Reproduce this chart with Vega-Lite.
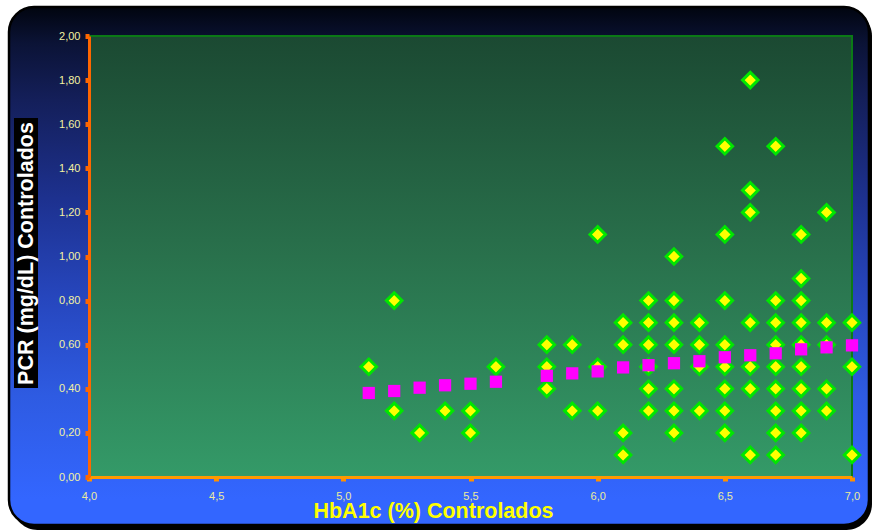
{
  "$schema": "https://vega.github.io/schema/vega-lite/v6.json",
  "width": 763,
  "height": 441,
  "autosize": {"type": "none"},
  "padding": {"left": 89, "top": 36, "right": 20, "bottom": 53},
  "background": "#ffffff",
  "config": {
    "view": {"stroke": null},
    "axis": {"zindex": 5, "grid": false},
    "locale": {"number": {"decimal": ",", "thousands": ".", "grouping": [3], "currency": ["", " €"]}},
    "font": "Liberation Sans"
  },
  "datasets": {
    "points": [
      {"hba1c": 5.1, "pcr": 0.5},
      {"hba1c": 5.2, "pcr": 0.8}, {"hba1c": 5.2, "pcr": 0.3},
      {"hba1c": 5.3, "pcr": 0.2},
      {"hba1c": 5.4, "pcr": 0.3},
      {"hba1c": 5.5, "pcr": 0.3}, {"hba1c": 5.5, "pcr": 0.2},
      {"hba1c": 5.6, "pcr": 0.5},
      {"hba1c": 5.8, "pcr": 0.6}, {"hba1c": 5.8, "pcr": 0.5}, {"hba1c": 5.8, "pcr": 0.4},
      {"hba1c": 5.9, "pcr": 0.6}, {"hba1c": 5.9, "pcr": 0.3},
      {"hba1c": 6.0, "pcr": 1.1}, {"hba1c": 6.0, "pcr": 0.5}, {"hba1c": 6.0, "pcr": 0.3},
      {"hba1c": 6.1, "pcr": 0.7}, {"hba1c": 6.1, "pcr": 0.6}, {"hba1c": 6.1, "pcr": 0.2}, {"hba1c": 6.1, "pcr": 0.1},
      {"hba1c": 6.2, "pcr": 0.8}, {"hba1c": 6.2, "pcr": 0.7}, {"hba1c": 6.2, "pcr": 0.6}, {"hba1c": 6.2, "pcr": 0.5}, {"hba1c": 6.2, "pcr": 0.4}, {"hba1c": 6.2, "pcr": 0.3},
      {"hba1c": 6.3, "pcr": 1.0}, {"hba1c": 6.3, "pcr": 0.8}, {"hba1c": 6.3, "pcr": 0.7}, {"hba1c": 6.3, "pcr": 0.6}, {"hba1c": 6.3, "pcr": 0.4}, {"hba1c": 6.3, "pcr": 0.3}, {"hba1c": 6.3, "pcr": 0.2},
      {"hba1c": 6.4, "pcr": 0.7}, {"hba1c": 6.4, "pcr": 0.6}, {"hba1c": 6.4, "pcr": 0.5}, {"hba1c": 6.4, "pcr": 0.3},
      {"hba1c": 6.5, "pcr": 1.5}, {"hba1c": 6.5, "pcr": 1.1}, {"hba1c": 6.5, "pcr": 0.8}, {"hba1c": 6.5, "pcr": 0.6}, {"hba1c": 6.5, "pcr": 0.5}, {"hba1c": 6.5, "pcr": 0.4}, {"hba1c": 6.5, "pcr": 0.3}, {"hba1c": 6.5, "pcr": 0.2},
      {"hba1c": 6.6, "pcr": 1.8}, {"hba1c": 6.6, "pcr": 1.3}, {"hba1c": 6.6, "pcr": 1.2}, {"hba1c": 6.6, "pcr": 0.7}, {"hba1c": 6.6, "pcr": 0.5}, {"hba1c": 6.6, "pcr": 0.4}, {"hba1c": 6.6, "pcr": 0.1},
      {"hba1c": 6.7, "pcr": 1.5}, {"hba1c": 6.7, "pcr": 0.8}, {"hba1c": 6.7, "pcr": 0.7}, {"hba1c": 6.7, "pcr": 0.6}, {"hba1c": 6.7, "pcr": 0.5}, {"hba1c": 6.7, "pcr": 0.4}, {"hba1c": 6.7, "pcr": 0.3}, {"hba1c": 6.7, "pcr": 0.2}, {"hba1c": 6.7, "pcr": 0.1},
      {"hba1c": 6.8, "pcr": 1.1}, {"hba1c": 6.8, "pcr": 0.9}, {"hba1c": 6.8, "pcr": 0.8}, {"hba1c": 6.8, "pcr": 0.7}, {"hba1c": 6.8, "pcr": 0.6}, {"hba1c": 6.8, "pcr": 0.5}, {"hba1c": 6.8, "pcr": 0.4}, {"hba1c": 6.8, "pcr": 0.3}, {"hba1c": 6.8, "pcr": 0.2},
      {"hba1c": 6.9, "pcr": 1.2}, {"hba1c": 6.9, "pcr": 0.7}, {"hba1c": 6.9, "pcr": 0.6}, {"hba1c": 6.9, "pcr": 0.4}, {"hba1c": 6.9, "pcr": 0.3},
      {"hba1c": 7.0, "pcr": 0.7}, {"hba1c": 7.0, "pcr": 0.5}, {"hba1c": 7.0, "pcr": 0.1}
    ],
    "trend": [
      {"hba1c": 5.1, "pcr": 0.381}, {"hba1c": 5.2, "pcr": 0.390}, {"hba1c": 5.3, "pcr": 0.405},
      {"hba1c": 5.4, "pcr": 0.416}, {"hba1c": 5.5, "pcr": 0.423}, {"hba1c": 5.6, "pcr": 0.432},
      {"hba1c": 5.8, "pcr": 0.459}, {"hba1c": 5.9, "pcr": 0.470}, {"hba1c": 6.0, "pcr": 0.479},
      {"hba1c": 6.1, "pcr": 0.497}, {"hba1c": 6.2, "pcr": 0.507}, {"hba1c": 6.3, "pcr": 0.516},
      {"hba1c": 6.4, "pcr": 0.525}, {"hba1c": 6.5, "pcr": 0.543}, {"hba1c": 6.6, "pcr": 0.552},
      {"hba1c": 6.7, "pcr": 0.561}, {"hba1c": 6.8, "pcr": 0.579}, {"hba1c": 6.9, "pcr": 0.588},
      {"hba1c": 7.0, "pcr": 0.597}
    ]
  },
  "layer": [
    {
      "data": {"values": [{}]},
      "mark": {"type": "rect", "fill": "#000000", "cornerRadius": 26},
      "encoding": {
        "x": {"datum": 3.6972, "type": "quantitative", "scale": {"domain": [4, 7], "nice": false, "zero": false}},
        "x2": {"datum": 7.0786},
        "y": {"datum": 2.1179, "type": "quantitative", "scale": {"domain": [0, 2], "nice": false, "zero": false}},
        "y2": {"datum": -0.2404}
      }
    },
    {
      "data": {"values": [{}]},
      "mark": {
        "type": "rect", "cornerRadius": 25, "stroke": "#000000", "strokeWidth": 2.5,
        "fill": {
          "gradient": "linear", "x1": 0, "y1": 0, "x2": 0, "y2": 1,
          "stops": [
            {"offset": 0, "color": "#01050f"},
            {"offset": 0.07, "color": "#0b1336"},
            {"offset": 0.18, "color": "#141f5a"},
            {"offset": 0.37, "color": "#1d318f"},
            {"offset": 0.56, "color": "#2646bd"},
            {"offset": 0.75, "color": "#2e5be2"},
            {"offset": 0.95, "color": "#3366ff"},
            {"offset": 1, "color": "#3366ff"}
          ]
        }
      },
      "encoding": {
        "x": {"datum": 3.6855, "type": "quantitative", "scale": {"domain": [4, 7], "nice": false, "zero": false}},
        "x2": {"datum": 7.0668},
        "y": {"datum": 2.1315, "type": "quantitative", "scale": {"domain": [0, 2], "nice": false, "zero": false}},
        "y2": {"datum": -0.2177}
      }
    },
    {
      "data": {"values": [{}]},
      "mark": {"type": "rect", "fill": "#000000"},
      "encoding": {
        "x": {"datum": 3.7051, "type": "quantitative", "scale": {"domain": [4, 7], "nice": false, "zero": false}},
        "x2": {"datum": 3.7995},
        "y": {"datum": 1.6281, "type": "quantitative", "scale": {"domain": [0, 2], "nice": false, "zero": false}},
        "y2": {"datum": 0.4036}
      }
    },
    {
      "data": {"values": [{}]},
      "mark": {
        "type": "rect", "stroke": "#0b7a16", "strokeWidth": 2,
        "fill": {
          "gradient": "linear", "x1": 0, "y1": 0, "x2": 0, "y2": 1,
          "stops": [
            {"offset": 0, "color": "#1b4932"},
            {"offset": 0.5, "color": "#29714c"},
            {"offset": 1, "color": "#349a68"}
          ]
        }
      },
      "encoding": {
        "x": {"datum": 4, "type": "quantitative", "scale": {"domain": [4, 7], "nice": false, "zero": false}},
        "x2": {"datum": 7},
        "y": {"datum": 2, "type": "quantitative", "scale": {"domain": [0, 2], "nice": false, "zero": false}},
        "y2": {"datum": 0}
      }
    },
    {
      "data": {"name": "points"},
      "mark": {"type": "point", "shape": "diamond", "filled": true, "fill": "#ffff00", "stroke": "#00e600", "strokeWidth": 3, "size": 240, "opacity": 1},
      "encoding": {
        "x": {
          "field": "hba1c", "type": "quantitative",
          "scale": {"domain": [4, 7], "nice": false, "zero": false},
          "axis": {
            "values": [4, 4.5, 5, 5.5, 6, 6.5, 7], "format": ".1f", "grid": false, "zindex": 5,
            "domainColor": "#ff9900", "domainWidth": 3, "tickColor": "#ff9000", "tickWidth": 5, "tickSize": 4,
            "labelColor": "#ecec9c", "labelFontSize": 11, "labelPadding": 9, "labelFlush": false,
            "title": "HbA1c (%) Controlados", "titleColor": "#ffff00", "titleFontSize": 21.5, "titleFontWeight": "bold",
            "titleX": 344, "titleY": 40, "titleAlign": "center", "titleBaseline": "alphabetic"
          }
        },
        "y": {
          "field": "pcr", "type": "quantitative",
          "scale": {"domain": [0, 2], "nice": false, "zero": false},
          "axis": {
            "values": [0, 0.2, 0.4, 0.6, 0.8, 1, 1.2, 1.4, 1.6, 1.8, 2], "format": ".2f", "grid": false, "zindex": 5,
            "domainColor": "#ff6600", "domainWidth": 3, "tickColor": "#ff6600", "tickWidth": 5, "tickSize": 4,
            "labelColor": "#f2f2a0", "labelFontSize": 11, "labelPadding": 5,
            "title": "PCR (mg/dL) Controlados", "titleColor": "#ffffff", "titleFontSize": 21.5, "titleFontWeight": "bold",
            "titleAngle": 270, "titleX": -63, "titleY": 217, "titleAlign": "center", "titleBaseline": "middle"
          }
        }
      }
    },
    {
      "data": {"name": "trend"},
      "mark": {"type": "square", "filled": true, "color": "#ff00ff", "size": 150, "opacity": 1},
      "encoding": {
        "x": {"field": "hba1c", "type": "quantitative", "scale": {"domain": [4, 7], "nice": false, "zero": false}},
        "y": {"field": "pcr", "type": "quantitative", "scale": {"domain": [0, 2], "nice": false, "zero": false}}
      }
    }
  ]
}
